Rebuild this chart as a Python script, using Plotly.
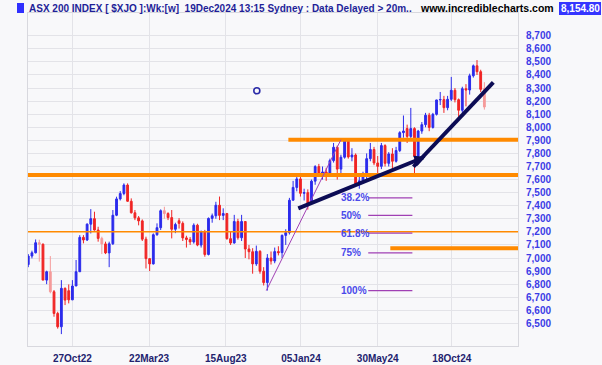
import plotly.graph_objects as go
import pandas as pd

# ---------------- data ----------------
bar_dates = pd.date_range("2022-08-04", periods=125, freq="7D")

opens = [6950, 7015, 7040, 7117, 7105, 6831, 6895, 6742, 6576, 6474,
         6768, 6750, 6680, 6786, 6895, 7158, 7138, 7259, 7301, 7214,
         7150, 7108, 7039, 7109, 7327, 7452, 7493, 7558, 7434, 7346,
         7307, 7284, 7144, 6995, 6955, 7178, 7232, 7362, 7340, 7309,
         7220, 7285, 7265, 7154, 7142, 7123, 7251, 7099, 7203, 7027,
         7303, 7323, 7404, 7326, 7340, 7148, 7115, 7279, 7155, 7279,
         7069, 7048, 6955, 7051, 6899, 6812, 7000, 6977, 7049, 7041,
         7173, 7194, 7442, 7540, 7605, 7495, 7500, 7421, 7588, 7699,
         7645, 7658, 7643, 7745, 7847, 7680, 7771, 7896, 7773, 7788,
         7567, 7590, 7629, 7760, 7830, 7727, 7701, 7860, 7724, 7796,
         7740, 7822, 7959, 7990, 7930, 7990, 7778, 7971, 8020, 8092,
         7999, 8099, 8209, 8212, 8150, 8214, 8283, 8211, 8130, 8295,
         8285, 8394, 8470, 8425, 8296]
highs = [7030, 7056, 7142, 7140, 7112, 6903, 7015, 6755, 6589, 6831,
         6775, 6798, 6831, 6985, 7175, 7175, 7265, 7374, 7354, 7239,
         7163, 7125, 7125, 7367, 7469, 7512, 7571, 7571, 7456, 7367,
         7321, 7295, 7163, 7000, 7188, 7265, 7372, 7392, 7350, 7367,
         7270, 7305, 7280, 7170, 7160, 7265, 7262, 7210, 7215, 7310,
         7340, 7430, 7470, 7380, 7345, 7200, 7330, 7300, 7330, 7280,
         7100, 7075, 7095, 7060, 6930, 7030, 7050, 7080, 7090, 7180,
         7220, 7460, 7590, 7630, 7620, 7530, 7525, 7600, 7710, 7720,
         7700, 7690, 7760, 7880, 7860, 7790, 7910, 7905, 7840, 7800,
         7640, 7660, 7800, 7880, 7850, 7780, 7880, 7870, 7810, 7840,
         7850, 7970, 8090, 8020, 8148, 8000, 7980, 8040, 8110, 8110,
         8110, 8210, 8270, 8240, 8240, 8385, 8300, 8220, 8310, 8330,
         8410, 8480, 8514, 8440, 8345]
lows = [6930, 6997, 7035, 6972, 6831, 6800, 6730, 6551, 6460, 6418,
        6640, 6653, 6678, 6786, 6895, 7112, 7130, 7188, 7210, 7125,
        7030, 7030, 6930, 7100, 7320, 7440, 7480, 7430, 7340, 7290,
        7250, 7130, 6920, 6900, 6950, 7170, 7214, 7300, 7290, 7150,
        7190, 7225, 7130, 7080, 7100, 7110, 7090, 7080, 7010, 7020,
        7270, 7300, 7290, 7290, 7140, 7100, 7110, 7140, 7130, 7000,
        6990, 6880, 6940, 6880, 6790, 6751, 6950, 6960, 7020, 7000,
        7100, 7180, 7440, 7510, 7470, 7440, 7370, 7410, 7560, 7620,
        7600, 7590, 7620, 7730, 7600, 7650, 7760, 7760, 7740, 7558,
        7530, 7570, 7600, 7740, 7710, 7640, 7680, 7700, 7700, 7670,
        7730, 7810, 7920, 7880, 7900, 7640, 7770, 7950, 8000, 7970,
        7990, 8090, 8170, 8110, 8130, 8200, 8190, 8080, 8110, 8160,
        8250, 8380, 8400, 8270, 8135]
closes = [7015, 7040, 7117, 7105, 6831, 6895, 6742, 6576, 6474, 6768,
          6678, 6680, 6786, 6895, 7158, 7138, 7259, 7301, 7214, 7150,
          7108, 7039, 7109, 7327, 7452, 7493, 7558, 7434, 7346, 7307,
          7284, 7144, 6995, 6955, 7178, 7232, 7362, 7340, 7309, 7220,
          7256, 7265, 7154, 7142, 7123, 7251, 7099, 7203, 7027, 7303,
          7323, 7404, 7326, 7340, 7148, 7115, 7279, 7155, 7279, 7069,
          7048, 6955, 7051, 6899, 6812, 7000, 6977, 7049, 7041, 7173,
          7194, 7442, 7540, 7605, 7495, 7500, 7421, 7588, 7699, 7645,
          7658, 7643, 7745, 7847, 7680, 7771, 7896, 7773, 7788, 7567,
          7590, 7629, 7760, 7830, 7727, 7701, 7860, 7724, 7796, 7740,
          7822, 7959, 7971, 7930, 7990, 7778, 7971, 8020, 8092, 7999,
          8099, 8209, 8212, 8150, 8214, 8283, 8211, 8130, 8295, 8285,
          8394, 8470, 8425, 8290, 8155]

# bars drawn in the lighter shade in the reference
pale_bars = [3, 6, 20, 37, 124]

tick_dates = ["2022-10-27", "2023-03-22", "2023-08-15", "2024-01-05", "2024-05-30", "2024-10-18"]
tick_text = ["27Oct22", "22Mar23", "15Aug23", "05Jan24", "30May24", "18Oct24"]
y_ticks = list(range(6500, 8701, 100))

x_start, x_end = "2022-08-03 12:00", "2025-02-21"
y_min, y_max = 6327, 8874

# horizontal support / resistance lines
sr_levels = [7635, 7905, 7200, 7074]
sr_starts = [x_start, "2023-12-12", x_start, "2024-06-23"]
sr_widths = [4, 4, 1.5, 4]

# trend lines
trend1_x = ["2023-12-28", "2024-08-29"]
trend1_y = [7375, 7775]
trend2_x = ["2024-08-06", "2025-01-05"]
trend2_y = [7698, 8344]

# fibonacci
fib_anchor_x = ["2023-10-31", "2024-03-21"]
fib_anchor_y = [6751, 7905]
fib_labels = ["38.2%", "50%", "61.8%", "75%", "100%"]
fib_levels = [7460, 7326, 7190, 7040, 6750]
fib_label_x = "2024-03-17"
fib_line_x = ["2024-05-12", "2024-08-04"]

marker_x = ["2023-10-13"]
marker_y = [8279]

last_value = "8,154.80"
title_text = "ASX 200 INDEX [ $XJO ]:Wk:[w]  19Dec2024 13:15 Sydney : Data Delayed > 20m.."
site_text = "www.incrediblecharts.com"

# ---------------- style ----------------
FONT = "Liberation Sans, Arial, sans-serif"
BG = "#f8f8fa"
GRID = "#e3e3e8"
BLUE = "#2b2bec"
RED = "#f02424"
PALE_BLUE = "#8c8cf4"
PALE_RED = "#f59a9a"
ORANGE = "#ff8a00"
NAVY = "#0c0c55"
PURPLE = "#a040b4"

L, R, T, B = 28, 84, 13, 19
W, H = 602, 365
pw, ph = W - L - R, H - T - B


def px2paper_x(px):
    return (px - L) / pw


def py2paper_y(py):
    return (H - B - py) / ph


def pick(seq, idx):
    return [seq[i] for i in idx]


main_idx = [i for i in range(len(opens)) if i not in pale_bars]

fig = go.Figure()

fig.add_trace(go.Candlestick(
    x=pick(bar_dates, main_idx), open=pick(opens, main_idx), high=pick(highs, main_idx),
    low=pick(lows, main_idx), close=pick(closes, main_idx),
    increasing=dict(line=dict(color=BLUE, width=1), fillcolor=BLUE),
    decreasing=dict(line=dict(color=RED, width=1), fillcolor=RED),
    whiskerwidth=0, hoverinfo="skip", showlegend=False,
))
fig.add_trace(go.Candlestick(
    x=pick(bar_dates, pale_bars), open=pick(opens, pale_bars), high=pick(highs, pale_bars),
    low=pick(lows, pale_bars), close=pick(closes, pale_bars),
    increasing=dict(line=dict(color=PALE_BLUE, width=1), fillcolor=PALE_BLUE),
    decreasing=dict(line=dict(color=PALE_RED, width=1), fillcolor=PALE_RED),
    whiskerwidth=0, hoverinfo="skip", showlegend=False,
))

shapes = []
for lvl, x0, w in zip(sr_levels, sr_starts, sr_widths):
    shapes.append(dict(type="line", xref="x", yref="y", x0=x0, x1=x_end, y0=lvl, y1=lvl,
                       line=dict(color=ORANGE, width=w), layer="above"))
for lvl in fib_levels:
    shapes.append(dict(type="line", xref="x", yref="y", x0=fib_line_x[0], x1=fib_line_x[1],
                       y0=lvl, y1=lvl, line=dict(color=PURPLE, width=1.2), layer="above"))
shapes.append(dict(type="line", xref="x", yref="y", x0=fib_anchor_x[0], x1=fib_anchor_x[1],
                   y0=fib_anchor_y[0], y1=fib_anchor_y[1], line=dict(color=PURPLE, width=1), layer="above"))
shapes.append(dict(type="line", xref="x", yref="y", x0=trend2_x[0], x1=trend2_x[1],
                   y0=trend2_y[0], y1=trend2_y[1], line=dict(color=NAVY, width=4), layer="above"))
# header icon and value box
shapes.append(dict(type="rect", xref="paper", yref="paper",
                   x0=px2paper_x(17), x1=px2paper_x(24), y0=py2paper_y(13), y1=py2paper_y(3),
                   fillcolor="#3030ff", line=dict(width=0)))
shapes.append(dict(type="rect", xref="paper", yref="paper",
                   x0=px2paper_x(559), x1=px2paper_x(601), y0=py2paper_y(15), y1=py2paper_y(2),
                   fillcolor="#3535ff", line=dict(width=0)))

fig.add_trace(go.Scatter(x=marker_x, y=marker_y, mode="markers",
                         marker=dict(symbol="circle-open", size=6, color="#2a2aa8", line=dict(width=1.6)),
                         hoverinfo="skip", showlegend=False))

annotations = []
annotations.append(dict(x=trend1_x[1], y=trend1_y[1], ax=trend1_x[0], ay=trend1_y[0],
                        xref="x", yref="y", axref="x", ayref="y", text="", showarrow=True,
                        arrowhead=2, arrowsize=0.55, arrowwidth=4, arrowcolor=NAVY, standoff=0))
for lab, lvl in zip(fib_labels, fib_levels):
    annotations.append(dict(x=fib_label_x, y=lvl, xref="x", yref="y", text=lab, showarrow=False,
                            xanchor="left", yanchor="middle",
                            font=dict(family=FONT, size=10, color="#4a4aea", weight="bold")))
annotations.append(dict(x=px2paper_x(27), y=py2paper_y(8.5), xref="paper", yref="paper", text=title_text,
                        showarrow=False, xanchor="left", yanchor="middle",
                        font=dict(family=FONT, size=10, color="#1f1f98", weight="bold")))
annotations.append(dict(x=px2paper_x(418), y=py2paper_y(8), xref="paper", yref="paper", text=site_text,
                        showarrow=False, xanchor="left", yanchor="middle",
                        font=dict(family=FONT, size=10.5, color="#000000", weight="bold")))
annotations.append(dict(x=px2paper_x(580), y=py2paper_y(8.5), xref="paper", yref="paper", text=last_value,
                        showarrow=False, xanchor="center", yanchor="middle",
                        font=dict(family=FONT, size=10, color="#ffffff", weight="bold")))

fig.update_layout(
    width=W, height=H,
    margin=dict(l=L, r=R, t=T, b=B, pad=0, autoexpand=False),
    paper_bgcolor=BG, plot_bgcolor=BG,
    shapes=shapes, annotations=annotations,
    showlegend=False, dragmode=False,
    xaxis=dict(type="date", range=[x_start, x_end], tickvals=tick_dates, ticktext=tick_text,
               showgrid=True, gridcolor=GRID, gridwidth=1, zeroline=False, automargin=False,
               showline=True, linecolor="#d8d8de", mirror=True, ticks="",
               tickfont=dict(family=FONT, size=10, color="#22226e", weight="bold"),
               ticklabelstandoff=3, rangeslider=dict(visible=False), fixedrange=True),
    yaxis=dict(range=[y_min, y_max], tickvals=y_ticks, tickformat=",d", side="right",
               showgrid=True, gridcolor=GRID, gridwidth=1, zeroline=False, automargin=False,
               showline=True, linecolor="#d8d8de", mirror=True, ticks="",
               tickfont=dict(family=FONT, size=10, color="#3c3ce6", weight="bold"),
               ticklabelstandoff=5, fixedrange=True),
)

fig.write_html("out.html", config={"displayModeBar": False},
               post_script="document.body.style.margin='0px';document.body.style.padding='0px';"
                           "document.body.style.background='" + BG + "';document.body.style.overflow='hidden';")
